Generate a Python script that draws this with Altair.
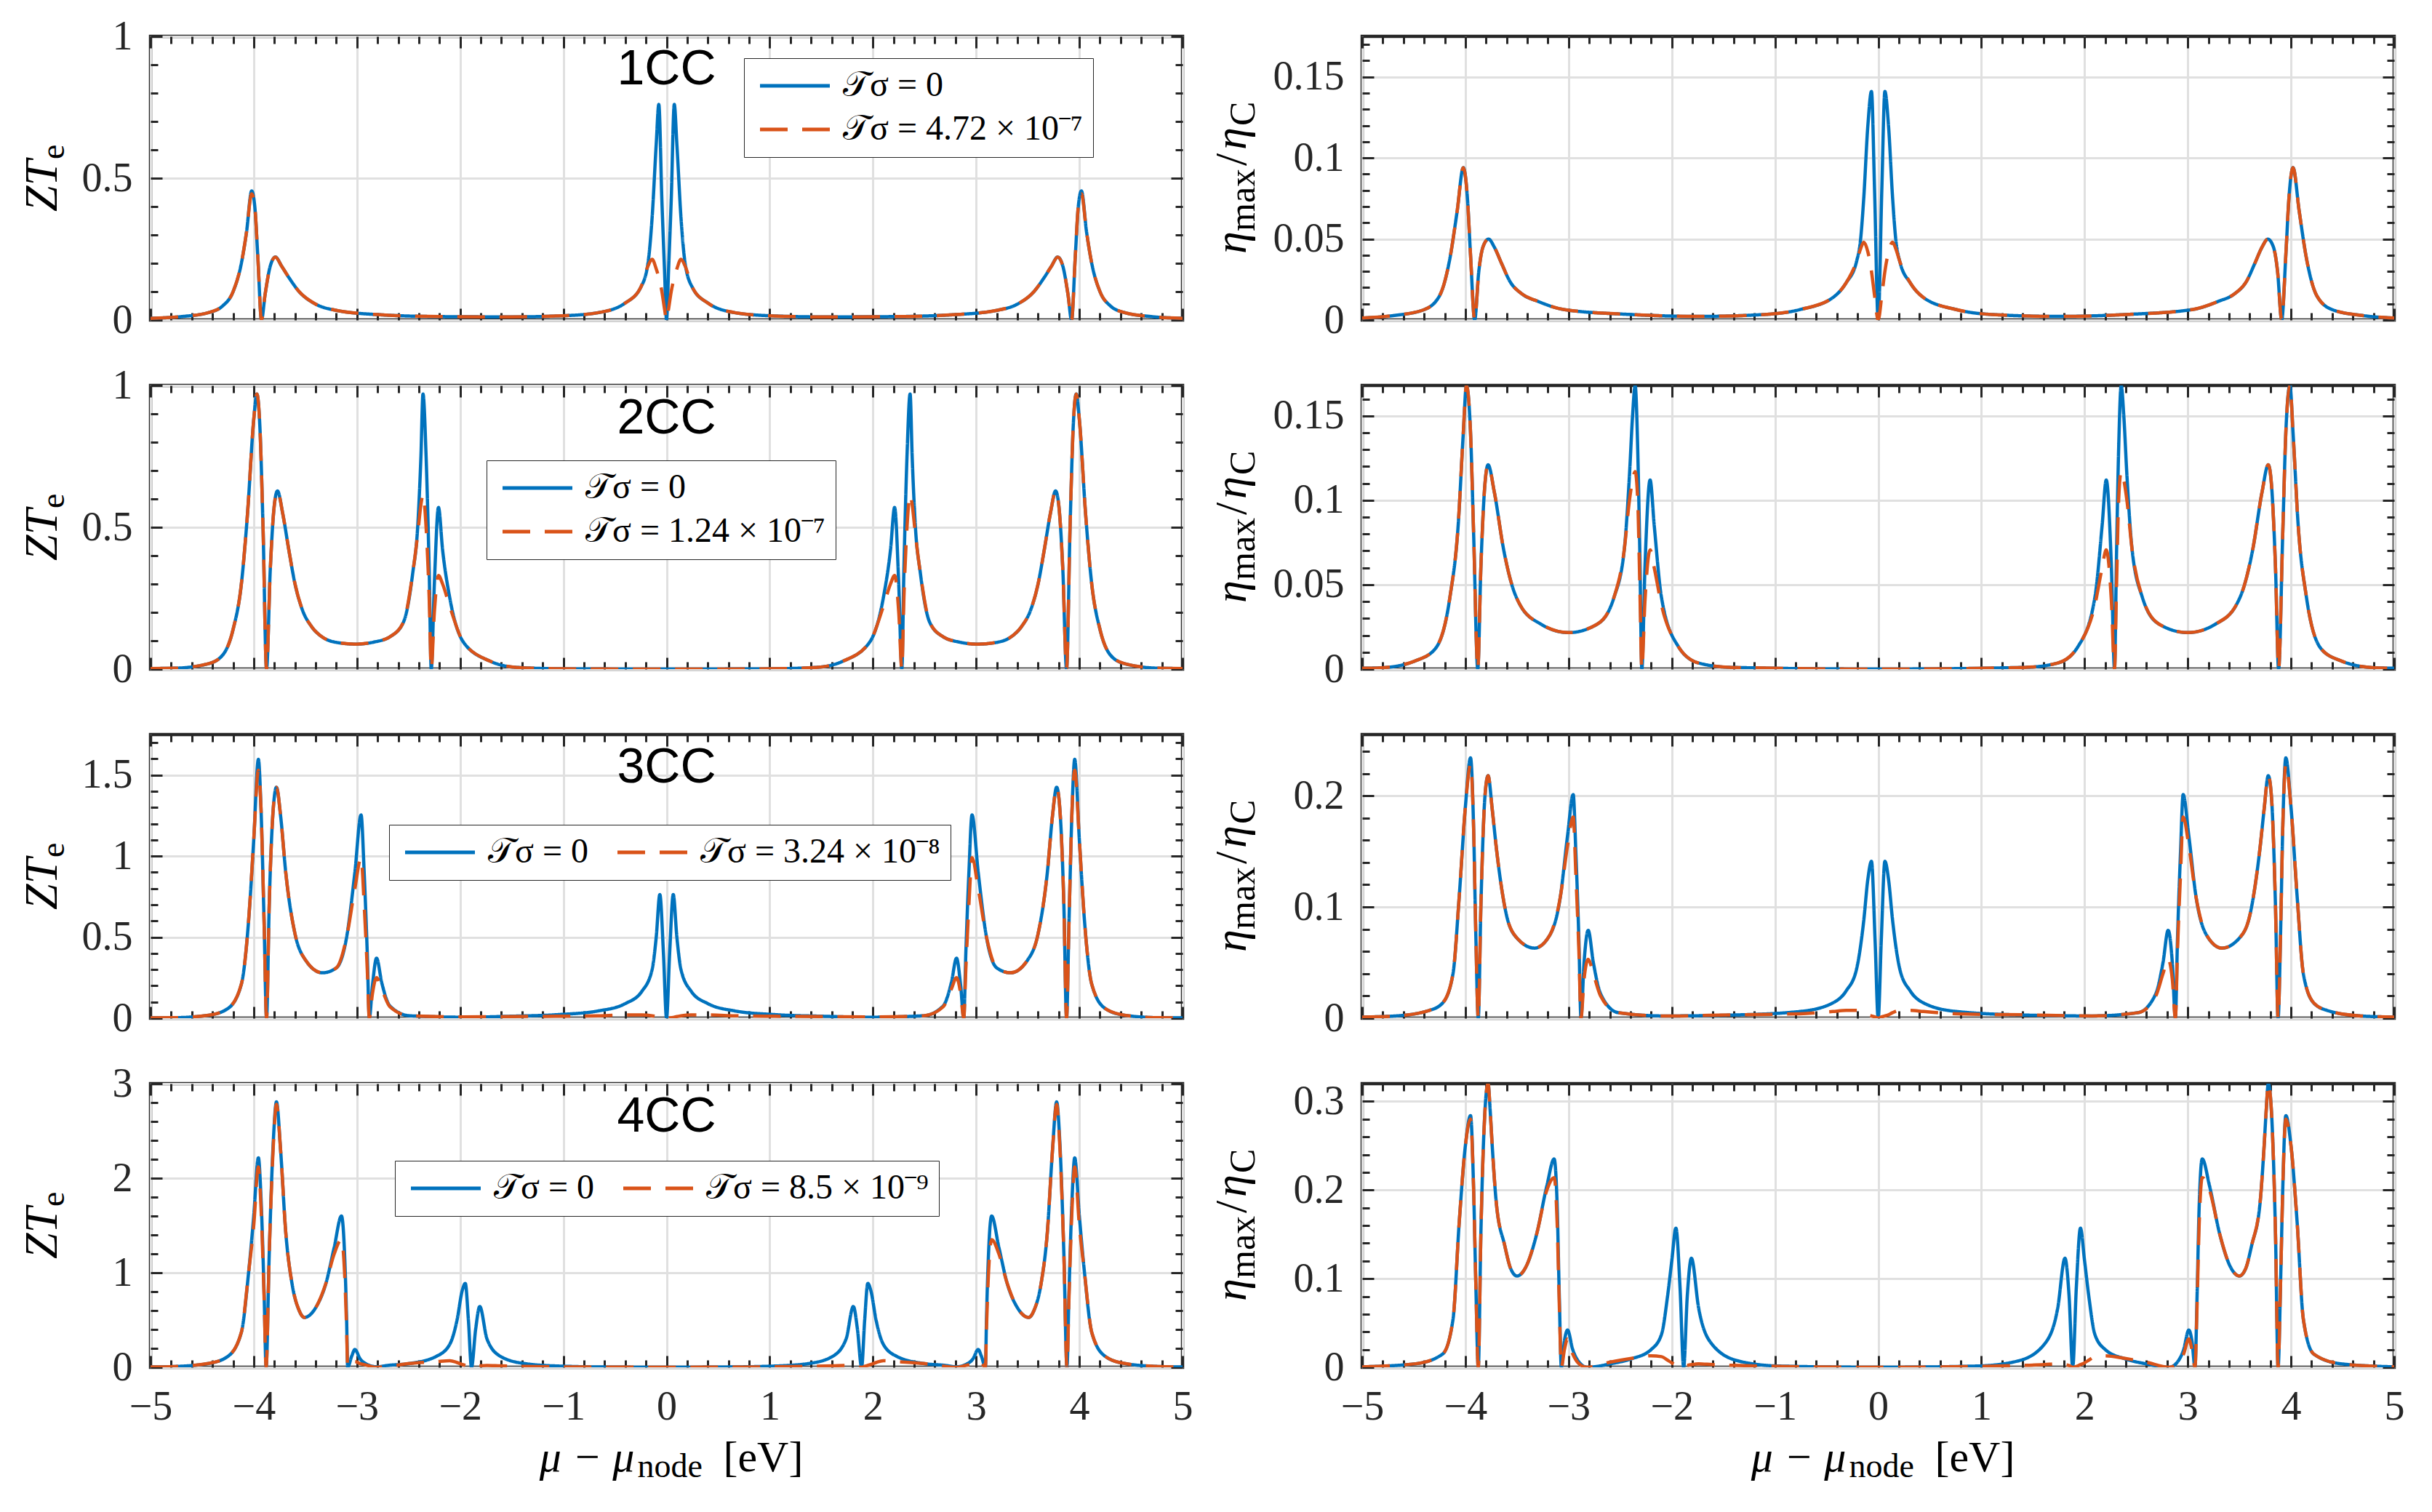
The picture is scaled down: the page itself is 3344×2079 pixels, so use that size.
import altair as alt
import pandas as pd

# The curves are mirror images about mu - mu_node = 0: the values below are
# read off the negative half (ending at 0) and reflected when the panels are built.

# ---- 1CC ----
x_1cc = [-5.0, -4.7, -4.44, -4.3, -4.2, -4.12, -4.07, -4.02, -3.99, -3.96,
         -3.925, -3.89, -3.84, -3.79, -3.73, -3.66, -3.56, -3.4, -3.2, -2.8,
         -2.2, -1.5, -1.0, -0.66, -0.4, -0.25, -0.18, -0.14, -0.1, -0.075,
         -0.045, -0.02, 0.0]
zt_1cc_a = [0.006, 0.012, 0.026, 0.05, 0.10, 0.20, 0.31, 0.455, 0.40, 0.22,
            0.0, 0.09, 0.19, 0.222, 0.19, 0.15, 0.10, 0.056, 0.034, 0.019,
            0.012, 0.011, 0.015, 0.026, 0.06, 0.115, 0.2, 0.36, 0.62, 0.76,
            0.42, 0.18, 0.0]
zt_1cc_b = [0.006, 0.012, 0.026, 0.05, 0.10, 0.20, 0.31, 0.445, 0.40, 0.22,
            0.0, 0.09, 0.19, 0.222, 0.19, 0.15, 0.10, 0.056, 0.034, 0.019,
            0.012, 0.011, 0.015, 0.026, 0.06, 0.115, 0.19, 0.214, 0.18, 0.15,
            0.10, 0.04, 0.0]
x_1cc_eta = [-5.0, -4.7, -4.4, -4.25, -4.15, -4.08, -4.02, -3.98, -3.95, -3.91,
             -3.87, -3.83, -3.775, -3.72, -3.65, -3.57, -3.45, -3.3, -3.04, -2.4,
             -1.75, -1.1, -0.76, -0.44, -0.31, -0.21, -0.17, -0.14, -0.1, -0.065,
             -0.035, 0.0]
eta_1cc_a = [0.0012, 0.0027, 0.0064, 0.015, 0.038, 0.067, 0.094, 0.075, 0.04, 0.0,
             0.03, 0.045, 0.0499, 0.045, 0.035, 0.024, 0.016, 0.0116, 0.0064, 0.0034,
             0.0022, 0.0034, 0.0064, 0.0138, 0.023, 0.036, 0.05, 0.075, 0.12, 0.141,
             0.08, 0.0]
eta_1cc_b = [0.0012, 0.0027, 0.0064, 0.015, 0.038, 0.067, 0.094, 0.075, 0.04, 0.0,
             0.03, 0.045, 0.0499, 0.045, 0.035, 0.024, 0.016, 0.0116, 0.0064, 0.0034,
             0.0022, 0.0034, 0.0064, 0.0138, 0.023, 0.036, 0.044, 0.048, 0.042, 0.03,
             0.015, 0.0]

# ---- 2CC ----
x_2cc = [-5.0, -4.77, -4.44, -4.3, -4.2, -4.12, -4.06, -4.0, -3.97, -3.94,
         -3.91, -3.876, -3.84, -3.8, -3.77, -3.72, -3.66, -3.6, -3.53, -3.44,
         -3.34, -3.18, -3.01, -2.84, -2.68, -2.55, -2.46, -2.41, -2.38, -2.36,
         -2.33, -2.3, -2.28, -2.25, -2.21, -2.17, -2.1, -1.97, -1.71, -1.45,
         -1.0, 0.0]
zt_2cc_a = [0.002, 0.003, 0.019, 0.05, 0.14, 0.3, 0.55, 0.88, 0.97, 0.85,
            0.5, 0.0, 0.35, 0.58, 0.628, 0.55, 0.42, 0.3, 0.21, 0.15,
            0.114, 0.093, 0.088, 0.095, 0.114, 0.165, 0.337, 0.51, 0.75, 0.97,
            0.75, 0.35, 0.0, 0.3, 0.57, 0.42, 0.25, 0.096, 0.028, 0.006,
            0.001, 0.0]
zt_2cc_b = [0.002, 0.003, 0.019, 0.05, 0.14, 0.3, 0.55, 0.88, 0.97, 0.85,
            0.5, 0.0, 0.35, 0.58, 0.628, 0.55, 0.42, 0.3, 0.21, 0.15,
            0.114, 0.093, 0.088, 0.095, 0.114, 0.165, 0.337, 0.48, 0.58, 0.615,
            0.5, 0.25, 0.0, 0.2, 0.33, 0.3, 0.22, 0.096, 0.028, 0.006,
            0.001, 0.0]
x_2cc_eta = [-5.0, -4.81, -4.48, -4.29, -4.15, -4.07, -4.02, -3.99, -3.95, -3.92,
             -3.88, -3.85, -3.81, -3.78, -3.72, -3.63, -3.55, -3.47, -3.27, -3.0,
             -2.72, -2.56, -2.46, -2.41, -2.38, -2.355, -2.33, -2.31, -2.29, -2.26,
             -2.21, -2.17, -2.1, -1.94, -1.74, -1.42, 0.0]
eta_2cc_a = [0.0005, 0.0008, 0.005, 0.0122, 0.0425, 0.085, 0.14, 0.168, 0.14, 0.08,
             0.0, 0.06, 0.11, 0.121, 0.105, 0.071, 0.05, 0.038, 0.0267, 0.0216,
             0.0267, 0.0425, 0.071, 0.115, 0.15, 0.168, 0.13, 0.07, 0.0, 0.06,
             0.112, 0.085, 0.0425, 0.0137, 0.0036, 0.001, 0.0]
eta_2cc_b = [0.0005, 0.0008, 0.005, 0.0122, 0.0425, 0.085, 0.14, 0.168, 0.14, 0.08,
             0.0, 0.06, 0.11, 0.121, 0.105, 0.071, 0.05, 0.038, 0.0267, 0.0216,
             0.0267, 0.0425, 0.071, 0.1, 0.112, 0.117, 0.1, 0.05, 0.0, 0.04,
             0.0706, 0.06, 0.038, 0.0137, 0.0036, 0.001, 0.0]

# ---- 3CC ----
x_3cc = [-5.0, -4.77, -4.44, -4.25, -4.12, -4.05, -4.0, -3.955, -3.93, -3.9,
         -3.876, -3.85, -3.81, -3.78, -3.74, -3.69, -3.6, -3.5, -3.335, -3.2,
         -3.1, -3.02, -2.96, -2.93, -2.9, -2.88, -2.85, -2.81, -2.76, -2.68,
         -2.49, -1.97, -1.51, -1.05, -0.66, -0.4, -0.24, -0.14, -0.1, -0.065,
         -0.03, 0.0]
zt_3cc_a = [0.002, 0.003, 0.018, 0.06, 0.21, 0.6, 1.1, 1.597, 1.3, 0.6,
            0.0, 0.7, 1.3, 1.425, 1.25, 0.9, 0.52, 0.36, 0.28, 0.31,
            0.5, 0.9, 1.254, 0.9, 0.4, 0.0, 0.2, 0.37, 0.22, 0.075,
            0.015, 0.006, 0.012, 0.022, 0.045, 0.09, 0.165, 0.3, 0.5, 0.763,
            0.4, 0.0]
zt_3cc_b = [0.002, 0.003, 0.018, 0.06, 0.21, 0.6, 1.1, 1.53, 1.3, 0.6,
            0.0, 0.7, 1.3, 1.425, 1.25, 0.9, 0.52, 0.36, 0.28, 0.31,
            0.5, 0.8, 0.99, 0.7, 0.3, 0.0, 0.15, 0.25, 0.18, 0.07,
            0.015, 0.008, 0.01, 0.012, 0.015, 0.02, 0.02, 0.015, 0.01, 0.005,
            0.002, 0.0]
x_3cc_eta = [-5.0, -4.68, -4.35, -4.22, -4.12, -4.06, -4.0, -3.95, -3.92, -3.9,
             -3.875, -3.85, -3.81, -3.78, -3.74, -3.7, -3.6, -3.5, -3.33, -3.18,
             -3.08, -3.01, -2.955, -2.93, -2.9, -2.88, -2.85, -2.81, -2.76, -2.69,
             -2.52, -2.07, -1.42, -0.76, -0.44, -0.31, -0.21, -0.14, -0.1, -0.065,
             -0.03, 0.0]
eta_3cc_a = [0.001, 0.002, 0.007, 0.0137, 0.04, 0.109, 0.19, 0.234, 0.17, 0.08,
             0.0, 0.1, 0.2, 0.218, 0.188, 0.153, 0.092, 0.072, 0.063, 0.075,
             0.109, 0.164, 0.201, 0.15, 0.07, 0.0, 0.05, 0.079, 0.05, 0.022,
             0.005, 0.002, 0.0028, 0.006, 0.0137, 0.0246, 0.044, 0.0876, 0.125, 0.141,
             0.07, 0.0]
eta_3cc_b = [0.001, 0.002, 0.007, 0.0137, 0.04, 0.109, 0.19, 0.228, 0.17, 0.08,
             0.0, 0.1, 0.2, 0.218, 0.188, 0.153, 0.092, 0.072, 0.063, 0.075,
             0.109, 0.155, 0.181, 0.13, 0.06, 0.0, 0.035, 0.053, 0.04, 0.02,
             0.005, 0.002, 0.003, 0.004, 0.006, 0.007, 0.007, 0.005, 0.003, 0.002,
             0.001, 0.0]

# ---- 4CC ----
x_4cc = [-5.0, -4.77, -4.44, -4.25, -4.12, -4.05, -4.0, -3.955, -3.93, -3.9,
         -3.88, -3.85, -3.81, -3.78, -3.74, -3.69, -3.63, -3.56, -3.51, -3.4,
         -3.3, -3.22, -3.15, -3.12, -3.1, -3.09, -3.05, -3.02, -2.97, -2.9,
         -2.81, -2.7, -2.49, -2.23, -2.1, -2.03, -1.98, -1.95, -1.92, -1.89,
         -1.85, -1.81, -1.74, -1.61, -1.38, -1.05, -0.5, 0.0]
zt_4cc_a = [0.003, 0.008, 0.04, 0.116, 0.37, 1.0, 1.6, 2.216, 1.8, 0.8,
            0.0, 1.2, 2.4, 2.807, 2.3, 1.43, 0.89, 0.6, 0.527, 0.63,
            0.89, 1.27, 1.6, 1.2, 0.5, 0.0, 0.12, 0.188, 0.09, 0.03,
            0.005, 0.02, 0.04, 0.116, 0.244, 0.5, 0.81, 0.887, 0.5, 0.0,
            0.4, 0.643, 0.3, 0.116, 0.04, 0.013, 0.002, 0.0]
zt_4cc_b = [0.003, 0.008, 0.04, 0.116, 0.37, 1.0, 1.5, 2.12, 1.7, 0.75,
            0.0, 1.2, 2.35, 2.78, 2.3, 1.43, 0.89, 0.6, 0.527, 0.63,
            0.89, 1.2, 1.35, 1.0, 0.4, 0.0, 0.05, 0.06, 0.04, 0.02,
            0.0, 0.01, 0.04, 0.06, 0.07, 0.05, 0.03, 0.02, 0.01, 0.0,
            0.01, 0.015, 0.02, 0.015, 0.01, 0.005, 0.002, 0.0]
x_4cc_eta = [-5.0, -4.48, -4.22, -4.12, -4.06, -4.0, -3.95, -3.92, -3.9, -3.875,
             -3.85, -3.81, -3.78, -3.76, -3.74, -3.7, -3.62, -3.56, -3.5, -3.41,
             -3.31, -3.21, -3.14, -3.11, -3.09, -3.07, -3.04, -3.01, -2.96, -2.9,
             -2.82, -2.59, -2.39, -2.2, -2.1, -2.04, -2.0, -1.96, -1.92, -1.885,
             -1.85, -1.81, -1.74, -1.61, -1.35, -0.96, 0.0]
eta_4cc_a = [0.0005, 0.004, 0.015, 0.054, 0.163, 0.25, 0.284, 0.2, 0.1, 0.0,
             0.15, 0.29, 0.32, 0.29, 0.25, 0.185, 0.138, 0.111, 0.103, 0.114,
             0.15, 0.205, 0.235, 0.18, 0.08, 0.0, 0.03, 0.042, 0.02, 0.006,
             0.0, 0.004, 0.0096, 0.02, 0.037, 0.081, 0.12, 0.157, 0.09, 0.0,
             0.08, 0.123, 0.067, 0.026, 0.007, 0.0014, 0.0]
eta_4cc_b = [0.0005, 0.004, 0.015, 0.054, 0.163, 0.25, 0.28, 0.2, 0.1, 0.0,
             0.15, 0.29, 0.32, 0.29, 0.25, 0.185, 0.138, 0.111, 0.103, 0.114,
             0.15, 0.2, 0.214, 0.16, 0.07, 0.0, 0.02, 0.032, 0.015, 0.004,
             0.0, 0.006, 0.01, 0.013, 0.012, 0.008, 0.005, 0.003, 0.001, 0.0,
             0.002, 0.003, 0.004, 0.003, 0.002, 0.001, 0.0]

lab_zero = "𝒯σ = 0"
lab_1cc = "𝒯σ = 4.72 × 10⁻⁷"
lab_2cc = "𝒯σ = 1.24 × 10⁻⁷"
lab_3cc = "𝒯σ = 3.24 × 10⁻⁸"
lab_4cc = "𝒯σ = 8.5 × 10⁻⁹"

BLUE, ORANGE, INK = "#0072BD", "#D95319", "#262626"
SERIF = "Liberation Serif"
W, H = 1419, 390
MAJ, MIN = 16, 10

x_major = list(range(-5, 6))
x_minor = [round(-5 + 0.2 * i, 1) for i in range(51) if i % 5]
one = pd.DataFrame({"k": [0]})


def mirror(xs, ys):
    return xs + [-v for v in xs[-2::-1]], ys + ys[-2::-1]


def text(s, x, y, size, align="left", font=SERIF, **kw):
    return alt.Chart(one).mark_text(
        text=s, fontSize=size, font=font, align=align, baseline="alphabetic",
        color="black", **kw
    ).encode(x=alt.value(x), y=alt.value(y))


def legend(lx, ly, horizontal):
    return alt.Legend(
        orient="none", legendX=lx, legendY=ly,
        direction="horizontal" if horizontal else "vertical",
        title=None, fillColor="white", strokeColor=INK, padding=14,
        symbolType="M-1,0H5", symbolSize=1024, symbolStrokeWidth=5,
        labelFont=SERIF, labelFontSize=48, labelColor="black",
        labelOffset=74, labelLimit=0, rowPadding=12, columnPadding=30,
    )


def panel(xs, ya, yb, lab_b, ymax, ymaj, ystep, kind, cc=None, leg=None, bottom=False):
    xf, af = mirror(xs, ya)
    _, bf = mirror(xs, yb)
    labels = [lab_zero, lab_b]
    da = pd.DataFrame({"x": xf, "y": af, "s": lab_zero})
    db = pd.DataFrame({"x": xf, "y": bf, "s": lab_b})
    xsc = alt.Scale(domain=[-5, 5], nice=False, zero=False)
    ysc = alt.Scale(domain=[0, ymax], nice=False, zero=False)
    color = alt.Color("s:N", scale=alt.Scale(domain=labels, range=[BLUE, ORANGE]), legend=leg)
    dash = alt.StrokeDash("s:N", scale=alt.Scale(domain=labels, range=[[1, 0], [38, 20]]), legend=leg)

    y_all = [round(i * ystep, 4) for i in range(int(round(ymax / ystep)) + 1)]
    y_minor = [v for v in y_all if v <= ymax and all(abs(v - m) > 1e-9 for m in ymaj)]

    xa = alt.Axis(orient="bottom", values=x_major, ticks=False, domain=False, grid=True,
                  labels=bottom, labelPadding=27, labelFlush=False, format="~g", title=None)
    ya_ = alt.Axis(orient="left", values=ymaj, ticks=False, domain=False, grid=True,
                   labelPadding=25, labelFlush=False, format="~g", title=None)

    blue = alt.Chart(da).mark_line(strokeWidth=4.5, clip=True, interpolate="monotone").encode(
        x=alt.X("x:Q", scale=xsc, axis=xa), y=alt.Y("y:Q", scale=ysc, axis=ya_),
        color=color, strokeDash=dash)
    orange = alt.Chart(db).mark_line(strokeWidth=4.5, clip=True, interpolate="monotone").encode(
        x=alt.X("x:Q", scale=xsc, axis=None), y=alt.Y("y:Q", scale=ysc, axis=None),
        color=color, strokeDash=dash)

    def ticks(xo, yo, xv, yv, size):
        ax = alt.Axis(orient=xo, values=xv, tickSize=size, offset=-size, labels=False,
                      domain=False, grid=False, title=None)
        ay = alt.Axis(orient=yo, values=yv, tickSize=size, offset=-size, labels=False,
                      domain=False, grid=False, title=None)
        return alt.Chart(da).mark_line(opacity=0).encode(
            x=alt.X("x:Q", scale=xsc, axis=ax), y=alt.Y("y:Q", scale=ysc, axis=ay))

    layers = [blue, orange,
              ticks("bottom", "left", x_major, ymaj, MAJ),
              ticks("bottom", "left", x_minor, y_minor, MIN),
              ticks("top", "right", x_major, ymaj, MAJ),
              ticks("top", "right", x_minor, y_minor, MIN)]

    if kind == "zt":
        y0 = H / 2 + 46
        layers += [text("ZT", -129, y0, 64, angle=270, fontStyle="italic"),
                   text("e", -129, y0, 46, angle=270, dx=72, dy=10)]
    else:
        y0 = H / 2 + 104
        layers += [text("η", -160, y0, 62, angle=270, fontStyle="italic"),
                   text("max", -160, y0, 50, angle=270, dx=31, dy=12),
                   text("/", -160, y0, 62, angle=270, dx=121),
                   text("η", -160, y0, 62, angle=270, dx=143, fontStyle="italic"),
                   text("C", -160, y0, 50, angle=270, dx=176, dy=12)]
    if cc:
        layers.append(text(cc, W / 2, 66, 68, align="center", font="Liberation Sans"))
    if bottom:
        layers += [text("μ − μ", W / 2 - 44, H + 143, 60, align="right", fontStyle="italic"),
                   text("node", W / 2 - 40, H + 151, 46),
                   text("[eV]", W / 2 + 78, H + 143, 60)]

    return alt.layer(*layers).properties(width=W, height=H).resolve_axis(
        x="independent", y="independent")


panels = [
    panel(x_1cc, zt_1cc_a, zt_1cc_b, lab_1cc, 1.0, [0, 0.5, 1], 0.1, "zt", "1CC",
          legend(816, 30, False)),
    panel(x_1cc_eta, eta_1cc_a, eta_1cc_b, lab_1cc, 0.175, [0, 0.05, 0.1, 0.15], 0.01, "eta"),
    panel(x_2cc, zt_2cc_a, zt_2cc_b, lab_2cc, 1.0, [0, 0.5, 1], 0.1, "zt", "2CC",
          legend(462, 103, False)),
    panel(x_2cc_eta, eta_2cc_a, eta_2cc_b, lab_2cc, 0.168, [0, 0.05, 0.1, 0.15], 0.01, "eta"),
    panel(x_3cc, zt_3cc_a, zt_3cc_b, lab_3cc, 1.75, [0, 0.5, 1, 1.5], 0.1, "zt", "3CC",
          legend(328, 124, True)),
    panel(x_3cc_eta, eta_3cc_a, eta_3cc_b, lab_3cc, 0.255, [0, 0.1, 0.2], 0.02, "eta"),
    panel(x_4cc, zt_4cc_a, zt_4cc_b, lab_4cc, 3.0, [0, 1, 2, 3], 0.2, "zt", "4CC",
          legend(336, 106, True), bottom=True),
    panel(x_4cc_eta, eta_4cc_a, eta_4cc_b, lab_4cc, 0.32, [0, 0.1, 0.2, 0.3], 0.02, "eta",
          bottom=True),
]

chart = alt.concat(
    *panels, columns=2, spacing={"row": 90, "column": 247}, bounds="flush"
).resolve_scale(
    color="independent", strokeDash="independent"
).properties(
    padding={"left": 16, "top": 11, "right": 10, "bottom": 10}, background="white"
).configure_view(
    stroke=INK, strokeWidth=4.5
).configure_axis(
    labelFont=SERIF, labelFontSize=56, labelColor=INK, gridColor="#e0e0e0",
    gridWidth=3, gridOpacity=1, tickColor=INK, tickWidth=3
)

chart.save("out.html", embed_options={"renderer": "svg", "actions": False})
